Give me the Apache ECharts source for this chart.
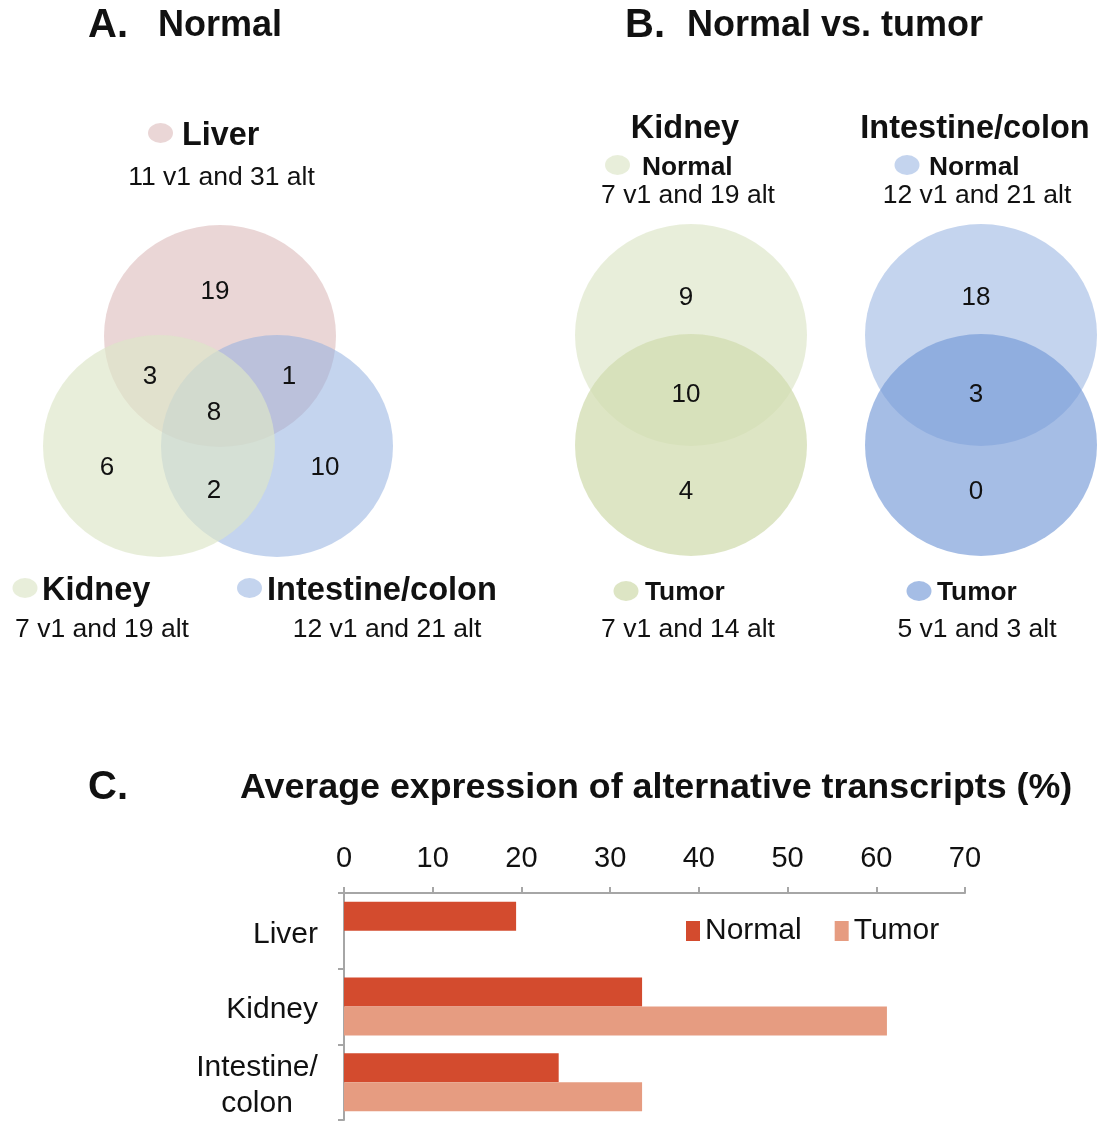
<!DOCTYPE html>
<html>
<head>
<meta charset="utf-8">
<title>Alternative transcripts</title>
<script src="https://cdn.jsdelivr.net/npm/echarts@6/dist/echarts.min.js"></script>
<style>
  html, body { margin: 0; padding: 0; background: #fff; }
  #chart { width: 1099px; height: 1122px; }
</style>
</head>
<body>
<div id="chart"></div>
<script>
// ---- Panel A: transcripts shared between normal tissues ----
const tissueNames = ['Liver', 'Kidney', 'Intestine/colon'];
const tissueV1 = [11, 7, 12];
const tissueAlt = [31, 19, 21];
// region counts: Liver only, Liver+Kidney, Liver+Intestine, all three, Kidney only, Kidney+Intestine, Intestine only
const vennACounts = [19, 3, 1, 8, 6, 2, 10];

// ---- Panel B: normal vs. tumor ----
const pairTissues = ['Kidney', 'Intestine/colon'];
const pairNormalV1 = [7, 12];
const pairNormalAlt = [19, 21];
const pairTumorV1 = [7, 5];
const pairTumorAlt = [14, 3];
// region counts: normal only, shared, tumor only
const kidneyPairCounts = [9, 10, 4];
const intestinePairCounts = [18, 3, 0];

// ---- Panel C: average expression of alternative transcripts (%) ----
const barCategories = ['Liver', 'Kidney', 'Intestine/\ncolon'];
const seriesNames = ['Normal', 'Tumor'];
const normalExpr = [19.4, 33.6, 24.2];
const tumorExpr = [null, 61.2, 33.6];

// ---------------- styling / layout ----------------
const FONT = "'Liberation Sans', Arial, Helvetica, sans-serif";
const TXT = '#111';

const fills = {
  liver:      { color: 'rgb(220,187,187)', opacity: 0.6 },
  kidney:     { color: 'rgb(221,230,200)', opacity: 0.67 },
  intestine:  { color: 'rgb(148,177,224)', opacity: 0.55 },
  kidneyT:    { color: 'rgb(209,220,175)', opacity: 0.74 },
  intestineT: { color: 'rgb(117,153,215)', opacity: 0.65 }
};

const RX = 116, RY = 111;

function ellipse(cx, cy, f, rx, ry) {
  rx = rx || RX; ry = ry || RY;
  return {
    type: 'circle',
    x: cx, y: cy,
    scaleY: ry / rx,
    shape: { cx: 0, cy: 0, r: rx },
    style: { fill: f.color, opacity: f.opacity },
    silent: true
  };
}
function dot(cx, cy, f) {
  return ellipse(cx, cy, f, 12.5, 10);
}
function text(str, x, y, size, bold, align) {
  return {
    type: 'text',
    x: x, y: y + 2,
    silent: true,
    style: {
      text: str,
      fill: TXT,
      fontFamily: FONT,
      fontSize: size,
      fontWeight: bold ? 'bold' : 'normal',
      align: align || 'center',
      verticalAlign: 'middle'
    }
  };
}
const summary = (v1, alt) => v1 + ' v1 and ' + alt + ' alt';

const g = [];

// titles
g.push(text('A.', 88, 24, 40, true, 'left'));
g.push(text('Normal', 158, 24, 36, true, 'left'));
g.push(text('B.', 625, 24, 40, true, 'left'));
g.push(text('Normal vs. tumor', 687, 24, 36, true, 'left'));
g.push(text('C.', 88, 786, 40, true, 'left'));
g.push(text('Average expression of alternative transcripts (%)', 240, 786, 35.8, true, 'left'));

// Panel A circles (liver, intestine, kidney drawing order)
const aCenters = { liver: [220, 336], kidney: [159, 446], intestine: [277, 446] };
g.push(ellipse(aCenters.liver[0], aCenters.liver[1], fills.liver));
g.push(ellipse(aCenters.intestine[0], aCenters.intestine[1], fills.intestine));
g.push(ellipse(aCenters.kidney[0], aCenters.kidney[1], fills.kidney));

const aLabelPos = [[215, 290], [150, 375], [289, 375], [214, 411], [107, 466], [214, 489], [325, 466]];
vennACounts.forEach((c, i) => g.push(text(String(c), aLabelPos[i][0], aLabelPos[i][1], 26, false)));

// Panel A set captions
g.push(dot(160.5, 133, fills.liver));
g.push(text(tissueNames[0], 182, 134, 32.3, true, 'left'));
g.push(text(summary(tissueV1[0], tissueAlt[0]), 221.5, 176, 26.5, false));

g.push(dot(25, 588, fills.kidney));
g.push(text(tissueNames[1], 42, 589, 32.5, true, 'left'));
g.push(text(summary(tissueV1[1], tissueAlt[1]), 102, 628, 26.5, false));

g.push(dot(249.5, 588, fills.intestine));
g.push(text(tissueNames[2], 267, 589, 32.6, true, 'left'));
g.push(text(summary(tissueV1[2], tissueAlt[2]), 387, 628, 26.5, false));

// Panel B: paired circles
const pairs = [
  { cx: 691, normal: fills.kidney, tumor: fills.kidneyT, counts: kidneyPairCounts,
    titleX: 685, normDotX: 617.5, normX: 642, tumDotX: 626, tumX: 645, sumX: 688 },
  { cx: 981, normal: fills.intestine, tumor: fills.intestineT, counts: intestinePairCounts,
    titleX: 975, normDotX: 907, normX: 929, tumDotX: 919, tumX: 937, sumX: 977 }
];
pairs.forEach((p, i) => {
  g.push(ellipse(p.cx, 335, p.normal));
  g.push(ellipse(p.cx, 445, p.tumor));
  const ys = [296, 393, 490];
  p.counts.forEach((c, k) => g.push(text(String(c), p.cx - 5, ys[k], 26, false)));

  g.push(text(pairTissues[i], p.titleX, 127, 32.5, true));
  g.push(dot(p.normDotX, 165, p.normal));
  g.push(text('Normal', p.normX, 166, 26.3, true, 'left'));
  g.push(text(summary(pairNormalV1[i], pairNormalAlt[i]), p.sumX, 194, 26.5, false));

  g.push(dot(p.tumDotX, 591, p.tumor));
  g.push(text('Tumor', p.tumX, 591, 26.3, true, 'left'));
  g.push(text(summary(pairTumorV1[i], pairTumorAlt[i]), p.sumX, 628, 26.5, false));
});

const AXIS_GRAY = '#a6a6a6';

const option = {
  backgroundColor: '#fff',
  animation: false,
  textStyle: { fontFamily: FONT },
  graphic: g,
  grid: { left: 344, right: 134, top: 893, height: 227 },
  legend: {
    data: seriesNames,
    left: 686, top: 916,
    padding: 0,
    icon: 'rect',
    itemWidth: 14, itemHeight: 20,
    itemGap: 33,
    textStyle: { fontSize: 30, color: TXT, fontFamily: FONT }
  },
  xAxis: {
    type: 'value',
    position: 'top',
    min: 0, max: 70, interval: 10,
    splitLine: { show: false },
    axisLine: { show: true, lineStyle: { color: AXIS_GRAY, width: 2 } },
    axisTick: { show: true, length: 6, lineStyle: { color: AXIS_GRAY, width: 2 } },
    axisLabel: { fontSize: 29, color: TXT, margin: 20, fontFamily: FONT }
  },
  yAxis: {
    type: 'category',
    inverse: true,
    data: barCategories,
    axisLine: { show: true, lineStyle: { color: AXIS_GRAY, width: 2 } },
    axisTick: { show: true, length: 6, lineStyle: { color: AXIS_GRAY, width: 2 } },
    axisLabel: {
      fontSize: 30, color: TXT, margin: 26, fontFamily: FONT,
      padding: [7, 0, 0, 0],
      formatter: v => v.indexOf('\n') >= 0
        ? v.split('\n').map(s => '{c|' + s + '}').join('\n')
        : v,
      rich: { c: { width: 122, align: 'center', fontSize: 30, color: TXT, fontFamily: FONT, lineHeight: 36 } }
    }
  },
  series: [
    { name: seriesNames[0], type: 'bar', data: normalExpr, barWidth: 29, barGap: '0%',
      itemStyle: { color: '#d34b2e' } },
    { name: seriesNames[1], type: 'bar', data: tumorExpr, barWidth: 29, barGap: '0%',
      itemStyle: { color: '#e69c81' } }
  ]
};

const chart = echarts.init(document.getElementById('chart'), null, { renderer: 'canvas' });
chart.setOption(option);
</script>
</body>
</html>
